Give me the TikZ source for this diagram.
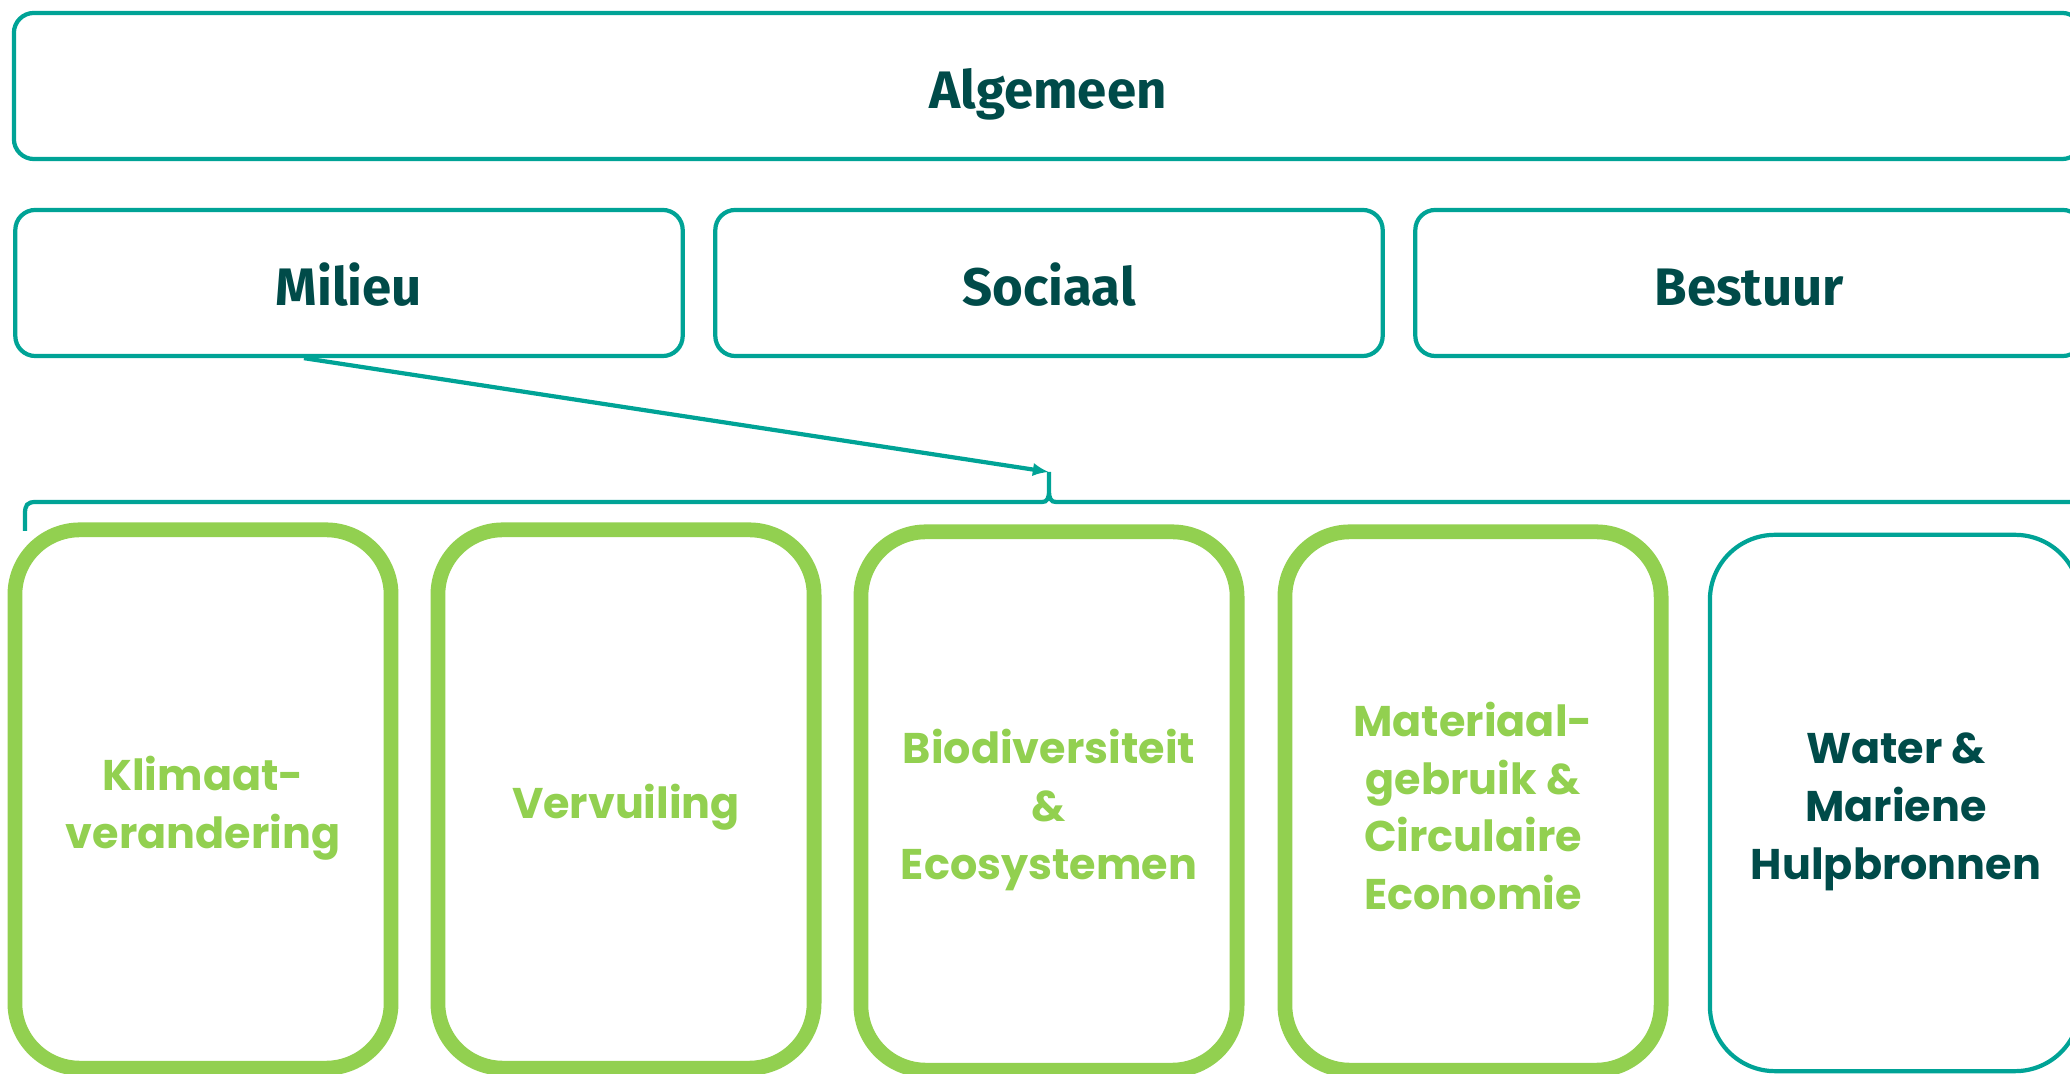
\documentclass[tikz,border=0pt]{standalone}
\usepackage{fontspec}
\setmainfont{Poppins}
\newfontfamily\headfont{Fira Sans}
\usetikzlibrary{arrows.meta}
\definecolor{esgteal}{RGB}{0,163,150}
\definecolor{esgdark}{RGB}{0,75,73}
\definecolor{esggreen}{RGB}{146,208,80}

\begin{document}
\begin{tikzpicture}[x=0.01cm, y=-0.01cm,
        head/.style={draw=esgteal, line width=1.2pt, rounded corners=0.2cm, text=esgdark,
            minimum height=1.46cm, text height=12.8pt, text depth=0pt,
            font=\headfont\bfseries\fontsize{15}{18}\selectfont},
        theme/.style={draw=esggreen, line width=4.2pt, rounded corners=0.65cm,
            minimum width=3.76cm, minimum height=5.38cm},
        other/.style={theme, draw=esgteal, line width=1.2pt, minimum width=3.7cm, minimum height=5.36cm},
        label/.style={align=center, text=esggreen, font=\bfseries\fontsize{12.2}{16.4}\selectfont},
        link/.style={draw=esgteal, line width=1.2pt}]
        \clip (0,0) rectangle (2070,1074);

        % top rows
        \node[head, minimum width=20.67cm] (alg) at (1048,86) {Algemeen};
        \node[head, minimum width=6.67cm] (mil) at (349,283) {Milieu};
        \node[head, minimum width=6.67cm] (soc) at (1049,283) {Sociaal};
        \node[head, minimum width=6.67cm] (best) at (1749,283) {Bestuur};

        % themes
        \node[theme] (klim) at (203,799) {};
        \node[theme] (verv) at (626,799) {};
        \node[theme] (bio) at (1049,801) {};
        \node[theme] (mat) at (1473,801) {};
        \node[other] (water) at (1895,803) {};

        \node[label] (klimtext) at (203,808) {Klimaat-\\verandering};
        \node[label] (vervtext) at (626,807) {Vervuiling};
        \node[label] (biotext) at (1049,810) {Biodiversiteit\\\&\\Ecosystemen};
        \node[label] (mattext) at (1473,806) {Materiaal-\\gebruik \&\\Circulaire\\Economie};
        \node[label, text=esgdark] (watertext) at (1896,812) {Water \&\\Mariene\\Hulpbronnen};

        % brace over the themes
        \coordinate (tip) at (1049,472);
        \draw[link] (25,531) -- (25,514) .. controls (25,505) and (27,502) .. (36,502)
            -- (1042,502) .. controls (1047,502) and (1049,499) .. (1049,490) -- (tip)
            -- (1049,490) .. controls (1049,499) and (1051,502) .. (1056,502) -- (2090,502);

        \path[link,->,>={Latex[length=4.6pt,width=3.8pt]}] ([xshift=-0.45cm]mil.south) -- (tip);
    \end{tikzpicture}
\end{document}
